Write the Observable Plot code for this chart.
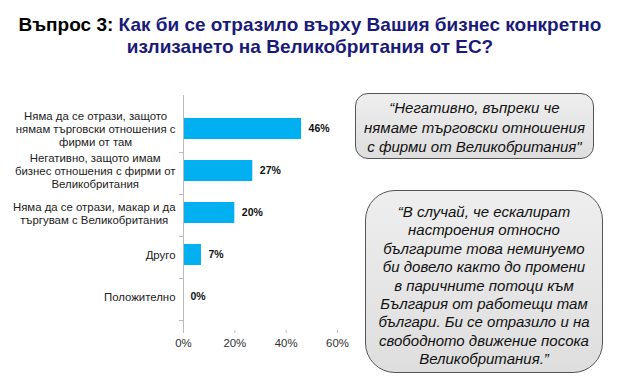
<!DOCTYPE html>
<html>
<head>
<meta charset="utf-8">
<script src="https://cdn.jsdelivr.net/npm/d3@7"></script>
<script src="https://cdn.jsdelivr.net/npm/@observablehq/plot@0.6"></script>
<style>
  body { margin: 0; background: #fff; font-family: "Liberation Sans", Arial, sans-serif; }
  #wrap { position: relative; width: 620px; height: 378px; overflow: hidden; }
  #title { position: absolute; left: 0; top: 14px; width: 620px; text-align: center; font-weight: bold; font-size: 19px; line-height: 22px; color: #1a1a7a; }
  #title .q { color: #000; }
  #chart { position: absolute; left: 0; top: 0; }
  .box { position: absolute; box-sizing: border-box; border: 1.5px solid #555; background: linear-gradient(#eeeeee, #dedede); font-style: italic; font-size: 15px; text-align: center; color: #111; white-space: nowrap; }
  #box1 { left: 355px; top: 93px; width: 239px; height: 66px; border-radius: 13px; line-height: 19.5px; padding-top: 4px; }
  #box2 { left: 365px; top: 190px; width: 238px; height: 183px; border-radius: 30px; line-height: 18.4px; padding-top: 12px; }
</style>
</head>
<body>
<div id="wrap">
  <div id="title"><span class="q">Въпрос 3:</span> Как би се отразило върху Вашия бизнес конкретно<br>излизането на Великобритания от ЕС?</div>
  <div id="chart"></div>
  <div class="box" id="box1">“Негативно, въпреки че<br>нямаме търговски отношения<br>с фирми от Великобритания"</div>
  <div class="box" id="box2">“В случай, че ескалират<br>настроения относно<br>българите това неминуемо<br>би довело както до промени<br>в паричните потоци към<br>България от работещи там<br>българи. Би се отразило и на<br>свободното движение посока<br>Великобритания.”</div>
</div>
<script>
const categories = [
  "Няма да се отрази, защото\nнямам търговски отношения с\nфирми от там",
  "Негативно, защото имам\nбизнес отношения с фирми от\nВеликобритания",
  "Няма да се отрази, макар и да\nтъргувам с Великобритания",
  "Друго",
  "Положително"
];
const values = [0.46, 0.27, 0.20, 0.07, 0.00];
const xTicks = [0, 0.2, 0.4, 0.6];

const data = categories.map((c, i) => ({category: c, value: values[i]}));
const pct = d3.format(".0%");

// measure label widths so each multi-line label is centred within a right-aligned block
const labelFont = "11.4px 'Liberation Sans', Arial, sans-serif";
const ctx = document.createElement("canvas").getContext("2d");
ctx.font = labelFont;
const blockWidth = c => Math.max(...c.split("\n").map(l => ctx.measureText(l).width));

const labelMarks = data.map(d => Plot.text([d], {
  y: "category", x: 0, text: "category", textAnchor: "middle",
  dx: -8 - blockWidth(d.category) / 2, fontSize: 11.4, lineHeight: 1.15, fill: "#222"
}));

const chart = Plot.plot({
  width: 350,
  height: 378,
  marginTop: 95,
  marginBottom: 48,
  marginLeft: 183,
  marginRight: 13,
  style: {fontFamily: "Liberation Sans, Arial, sans-serif", background: "transparent"},
  x: {domain: [0, 0.6]},
  y: {domain: categories, padding: 0.49},
  marks: [
    Plot.barX(data, {y: "category", x: "value", fill: "#00B0F0"}),
    Plot.ruleX([0], {stroke: "#bbb"}),
    Plot.ruleY(categories, {y: d => d, x1: -0.016, x2: 0, dy: 23.5, stroke: "#bbb"}),
    Plot.axisX({ticks: xTicks, tickFormat: pct, tickSize: 3, tickPadding: 5, fontSize: 11.4, color: "#333", stroke: "#bbb", label: null}),
    Plot.ruleY([0], {frameAnchor: "bottom", stroke: "#bbb"}),
    Plot.axisY({ticks: [], label: null}),
    ...labelMarks,
    Plot.text(data, {y: "category", x: "value", text: d => pct(d.value), textAnchor: "start", dx: 7, fontSize: 10.5, fontWeight: "bold", fill: "#111"})
  ]
});
document.getElementById("chart").appendChild(chart);
</script>
</body>
</html>
